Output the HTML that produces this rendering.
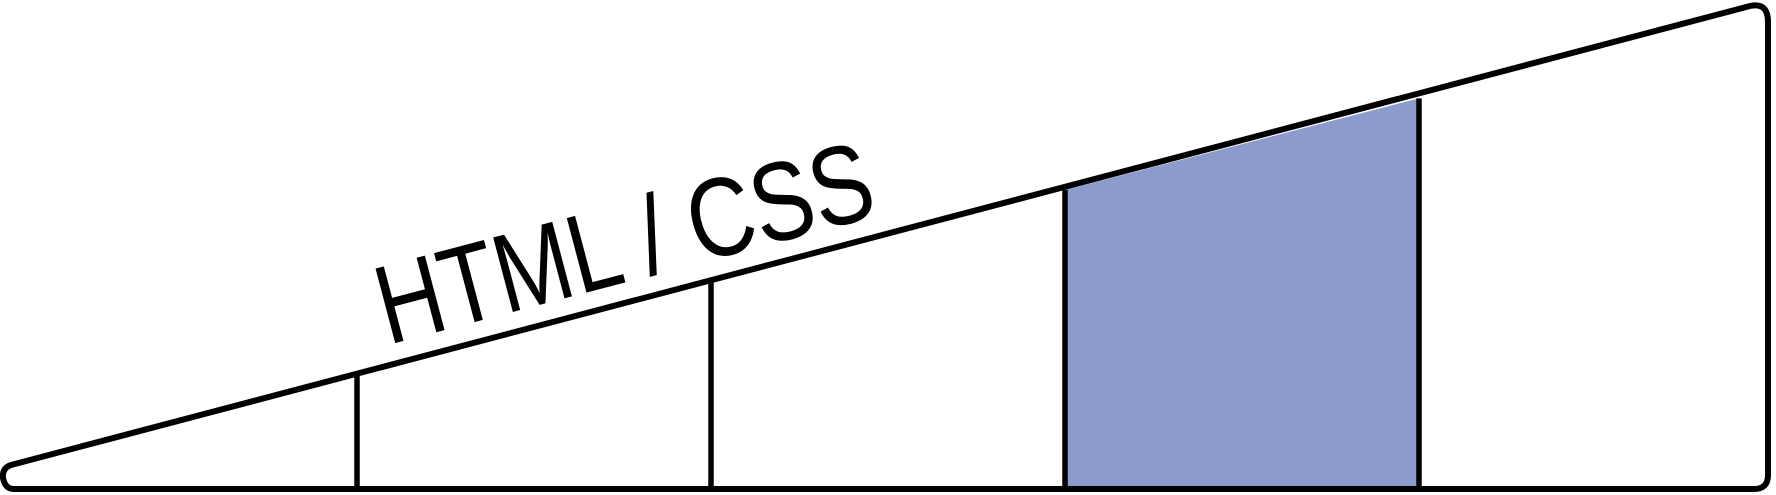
<!DOCTYPE html>
<html><head><meta charset="utf-8"><style>html,body{margin:0;padding:0;background:#fff}svg{display:block}</style></head>
<body>
<svg width="1776" height="495" viewBox="0 0 1776 495">
<g id="segs"></g>
<path d="M14 489 H1754 Q1768 489 1768 475 V22 Q1768 2 1750 6 L11 465 Q2 468 3 478 Q5 489 14 489 Z" fill="none" stroke="#000" stroke-width="6" stroke-linejoin="round"/>
<text x="388" y="345" transform="rotate(-14.8 388 345)" font-family="Liberation Sans, sans-serif" font-size="112" textLength="509" lengthAdjust="spacingAndGlyphs" fill="#000">HTML / CSS</text>
<script>
const levels=[1,2,3,4];
const filledLevel=[4];
const x0=10,x1=1768,yTop0=463,slope=(463-8)/1758,yBot=489;
const xs=l=>357+(l-1)*354;
const yTop=x=>yTop0-slope*(x-x0);
const g=document.getElementById('segs');
const NS='http://www.w3.org/2000/svg';
filledLevel.forEach(l=>{
 const a=xs(l-1),b=xs(l);
 const p=document.createElementNS(NS,'polygon');
 p.setAttribute('points',`${a},${yTop(a)} ${b},${yTop(b)} ${b},${yBot} ${a},${yBot}`);
 p.setAttribute('fill','#8c9acc');
 
 
 g.appendChild(p);
});
levels.forEach(l=>{
 const x=xs(l);
 const ln=document.createElementNS(NS,'line');
 ln.setAttribute('x1',x);ln.setAttribute('x2',x);
 ln.setAttribute('y1',yTop(x));ln.setAttribute('y2',yBot);
 ln.setAttribute('stroke','#000');ln.setAttribute('stroke-width','5.5');
 
 
 g.appendChild(ln);
});
</script>
</svg>
</body></html>
